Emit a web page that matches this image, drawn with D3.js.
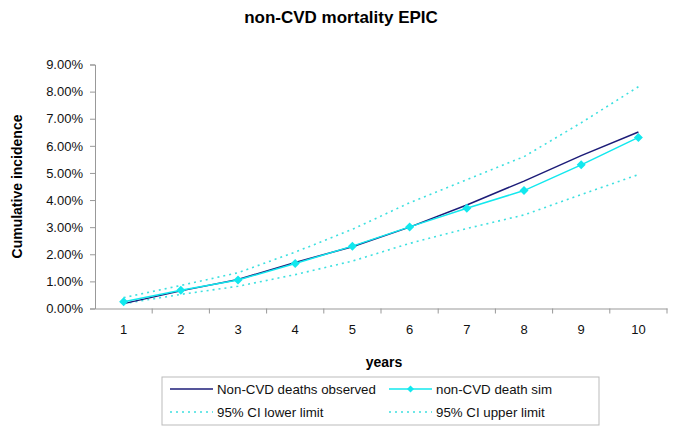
<!DOCTYPE html>
<html>
<head>
<meta charset="utf-8">
<script src="https://cdn.jsdelivr.net/npm/d3@7"></script>
<style>
html,body{margin:0;padding:0;background:#fff;}
svg{display:block;font-family:"Liberation Sans",Arial,sans-serif;}
</style>
</head>
<body>
<svg id="chart" width="685" height="437"></svg>
<script>
const years = [1,2,3,4,5,6,7,8,9,10];
const observed = [0.18,0.65,1.07,1.70,2.28,3.00,3.82,4.70,5.64,6.51];
const simulated = [0.25,0.67,1.05,1.66,2.30,3.01,3.70,4.35,5.30,6.31];
const ciLower = [0.18,0.52,0.82,1.25,1.75,2.40,2.95,3.45,4.20,4.94];
const ciUpper = [0.40,0.85,1.32,2.08,2.92,3.90,4.75,5.60,6.85,8.18];
const yTicks = [0,1,2,3,4,5,6,7,8,9];

const svg = d3.select("#chart");
const m = {left:95, right:667, top:64.5, bottom:308.5};

const x = d3.scaleBand().domain(years).range([m.left, m.right]);
const y = d3.scaleLinear().domain([0,9]).range([m.bottom, m.top]);
const cx = d => x(d) + x.bandwidth()/2;

// title
svg.append("text").attr("x",341).attr("y",23).attr("text-anchor","middle")
  .attr("font-size","17px").attr("font-weight","bold").text("non-CVD mortality EPIC");

// y axis
const yAxis = svg.append("g").attr("transform",`translate(${m.left},0)`)
  .call(d3.axisLeft(y).tickValues(yTicks).tickSize(5).tickPadding(7)
    .tickFormat(d => d.toFixed(2) + "%"));
yAxis.selectAll("path,line").attr("stroke","#999");
yAxis.selectAll("text").attr("font-size","13px").attr("fill","#111")
  .attr("font-family","Liberation Sans, Arial, sans-serif");

// x axis
const xAxis = svg.append("g").attr("transform",`translate(0,${m.bottom})`)
  .call(d3.axisBottom(x).tickSize(0).tickPadding(16));
xAxis.select("path").attr("stroke","#999");
xAxis.selectAll("text").attr("font-size","13px").attr("fill","#111")
  .attr("font-family","Liberation Sans, Arial, sans-serif");
const bounds = years.map(d => x(d) + x.bandwidth());
svg.append("g").selectAll("line").data(bounds).join("line")
  .attr("x1",d=>d).attr("x2",d=>d).attr("y1",m.bottom).attr("y2",m.bottom+5)
  .attr("stroke","#999");

// axis titles
svg.append("text").attr("transform",`translate(22,${(m.top+m.bottom)/2}) rotate(-90)`)
  .attr("text-anchor","middle").attr("font-size","14px").attr("font-weight","bold")
  .text("Cumulative incidence");
svg.append("text").attr("x",384).attr("y",367).attr("text-anchor","middle")
  .attr("font-size","14px").attr("font-weight","bold").text("years");

const line = d3.line().x((d,i)=>cx(years[i])).y(d=>y(d));

const dotCol = "#3ee0e0";
const dash = "2,4";
svg.append("path").datum(ciLower).attr("d",line).attr("fill","none")
  .attr("stroke",dotCol).attr("stroke-width",1.6).attr("stroke-dasharray",dash);
svg.append("path").datum(ciUpper).attr("d",line).attr("fill","none")
  .attr("stroke",dotCol).attr("stroke-width",1.6).attr("stroke-dasharray",dash);
svg.append("path").datum(observed).attr("d",line).attr("fill","none")
  .attr("stroke","#1c1c78").attr("stroke-width",1.5);
svg.append("path").datum(simulated).attr("d",line).attr("fill","none")
  .attr("stroke","#12e8ee").attr("stroke-width",1.5);

const diamondPath = s => `M0,${-s}L${s},0L0,${s}L${-s},0Z`;
svg.append("g").selectAll("path").data(simulated).join("path")
  .attr("d",diamondPath(4.5))
  .attr("transform",(d,i)=>`translate(${cx(years[i])},${y(d)})`)
  .attr("fill","#12e8ee");

// legend
const lg = svg.append("g");
lg.append("rect").attr("x",162).attr("y",377).attr("width",437).attr("height",48)
  .attr("fill","#fff").attr("stroke","#bbb").attr("stroke-width",1);
const items = [
  {label:"Non-CVD deaths observed", col:"#1c1c78", dash:null, mark:false, x:170, y:389},
  {label:"non-CVD death sim", col:"#12e8ee", dash:null, mark:true, x:389, y:389},
  {label:"95% CI lower limit", col:dotCol, dash:dash, mark:false, x:170, y:412},
  {label:"95% CI upper limit", col:dotCol, dash:dash, mark:false, x:389, y:412}
];
items.forEach(it=>{
  const l = lg.append("line").attr("x1",it.x).attr("x2",it.x+43).attr("y1",it.y).attr("y2",it.y)
    .attr("stroke",it.col).attr("stroke-width",1.5);
  if(it.dash) l.attr("stroke-dasharray",it.dash);
  if(it.mark) lg.append("path").attr("d",diamondPath(3.5))
    .attr("transform",`translate(${it.x+21.5},${it.y})`).attr("fill",it.col);
  lg.append("text").attr("x",it.x+47).attr("y",it.y+4.7).attr("font-size","13.3px")
    .attr("fill","#111").text(it.label);
});
</script>
</body>
</html>
